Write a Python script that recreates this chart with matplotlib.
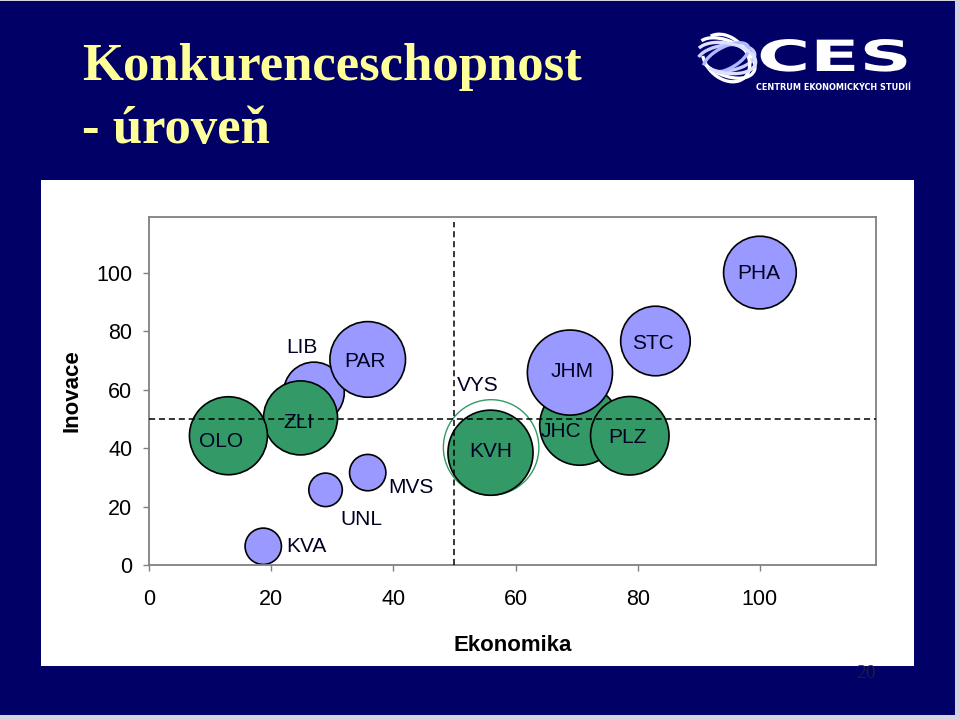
import numpy as np
import matplotlib
matplotlib.use("Agg")
import matplotlib.pyplot as plt
from matplotlib.patches import Rectangle, Arc
from matplotlib import patheffects
from matplotlib.transforms import Affine2D

# -----------------------------
# Data
# -----------------------------
# drawing order matters: later bubbles sit on top of earlier ones
kraje = ["VYS", "KVH", "JHC", "PLZ", "JHM", "STC", "PHA",
         "LIB", "ZLI", "PAR", "OLO", "MVS", "UNL", "KVA"]
ekonomika = [56.0, 55.9, 70.5, 78.7, 68.9, 82.9, 100.0,
             27.0, 24.8, 35.8, 13.0, 35.8, 28.9, 18.7]
inovace = [40.2, 38.4, 47.8, 44.2, 65.8, 76.6, 100.0,
           59.0, 50.3, 70.3, 44.2, 31.6, 25.7, 6.4]
velikost = [228, 181, 160, 154, 181, 121, 132,
            92, 137, 143, 152, 33, 28, 33]
skupina = ["obrys", "zelena", "zelena", "zelena", "modra", "modra", "modra",
           "modra", "zelena", "modra", "zelena", "modra", "modra", "modra"]

x_ticks = [0, 20, 40, 60, 80, 100]
y_ticks = [0, 20, 40, 60, 80, 100]
prah_x = 50
prah_y = 50

# label offsets from bubble centre, in points (style, not data)
label_dx = [-9.4, 0.0, -13.7, -1.4, 1.4, -1.8, -0.7,
            -8.6, -1.2, -2.0, -5.5, 31.0, 25.7, 31.2]
label_dy = [46.0, 2.4, -2.9, 0.0, 2.2, -0.7, 0.7,
            33.5, -2.0, 0.0, -2.4, -9.4, -19.7, 1.2]

NAVY = "#000066"
GREEN = "#339966"
LAVENDER = "#9999FF"
GREY = "#808080"
SANS = ["Liberation Sans", "DejaVu Sans"]
SERIF = ["Liberation Serif", "DejaVu Serif"]


class Stretch(patheffects.AbstractPathEffect):
    """Widen text horizontally around its own centre (for the logo lettering)."""

    def __init__(self, sx):
        super().__init__()
        self.sx = sx

    def draw_path(self, renderer, gc, tpath, affine, rgbFace=None):
        ext = affine.transform_path(tpath).get_extents()
        cx = (ext.x0 + ext.x1) / 2
        aff = affine + Affine2D().translate(-cx, 0).scale(self.sx, 1).translate(cx, 0)
        renderer.draw_path(gc, tpath, aff, rgbFace)


fig = plt.figure(figsize=(9.6, 7.2), dpi=100)
fig.patch.set_facecolor("#d4d4e0")

# -----------------------------
# Slide background (pixel coords)
# -----------------------------
bg = fig.add_axes([0, 0, 1, 1], zorder=0)
bg.set_xlim(0, 960)
bg.set_ylim(720, 0)
bg.axis("off")
bg.add_patch(Rectangle((0, 1), 955, 714, facecolor=NAVY, edgecolor="none"))
bg.add_patch(Rectangle((41, 180), 873, 486, facecolor="white", edgecolor="none"))

bg.text(82, 80, "Konkurenceschopnost", family=SERIF,
        weight="bold", fontsize=38, color="#FFFF99", ha="left", va="baseline")
bg.text(82, 143, "- úroveň", family=SERIF,
        weight="bold", fontsize=38, color="#FFFF99", ha="left", va="baseline")

# CES logo: swirl + lettering
for w, h, ang, col in [(62, 34, 25, "white"), (58, 26, -8, "#c8ccff"),
                       (54, 40, 45, "white"), (50, 22, -28, "#b0b8ff"),
                       (60, 30, 10, "#dde0ff")]:
    bg.add_patch(Arc((726, 58), w, h, angle=ang, theta1=190, theta2=500,
                     color=col, lw=2.4))
bg.text(834, 59, "CES", family=["DejaVu Sans"], weight="bold", fontsize=31,
        color="white", ha="center", va="center",
        path_effects=[Stretch(1.68)])
bg.text(833, 87, "CENTRUM EKONOMICKÝCH STUDIÍ", family=["DejaVu Sans"],
        weight="bold", stretch="condensed", fontsize=6.5, color="white",
        ha="center", va="center")

bg.text(866, 674, "20", family=SERIF,
        fontsize=14, color="#1c1c44", ha="center", va="center")

# -----------------------------
# Bubble chart
# -----------------------------
ax = fig.add_axes([149 / 960, 1 - 565 / 720, 727 / 960, 348 / 720], zorder=1)
ax.set_facecolor("white")
ax.set_xlim(0, 119)
ax.set_ylim(0, 119)

face = {"zelena": GREEN, "modra": LAVENDER, "obrys": "none"}
edge = {"zelena": "black", "modra": "black", "obrys": GREEN}
lw = {"zelena": 1.2, "modra": 1.2, "obrys": 1.0}

sizes = 20.736 * np.array(velikost, dtype=float)
ax.scatter(ekonomika, inovace, s=sizes,
           c=[face[g] for g in skupina],
           edgecolors=[edge[g] for g in skupina],
           linewidths=[lw[g] for g in skupina], zorder=2)

ax.axvline(prah_x, ymax=0.985, color="black", lw=1.1, linestyle=(0, (4, 2.5)), zorder=3)
ax.axhline(prah_y, color="black", lw=1.1, linestyle=(0, (4, 2.5)), zorder=3)

for name, x, y, dx, dy in zip(kraje, ekonomika, inovace, label_dx, label_dy):
    ax.annotate(name, (x, y), xytext=(dx, dy), textcoords="offset points",
                ha="center", va="center_baseline", fontsize=15, family=SANS,
                color="#000022", zorder=4)

ax.set_xticks(x_ticks)
ax.set_yticks(y_ticks)
ax.tick_params(axis="both", length=4, width=1, color=GREY, labelsize=15.5)
ax.tick_params(axis="x", pad=13)
ax.tick_params(axis="y", pad=8)
for lab in ax.get_xticklabels() + ax.get_yticklabels():
    lab.set_family(SANS)
for sp in ax.spines.values():
    sp.set_color(GREY)
    sp.set_linewidth(1.3)

ax.set_xlabel("Ekonomika", family=SANS, weight="bold", fontsize=16)
ax.set_ylabel("Inovace", family=SANS, weight="bold", fontsize=16)
ax.xaxis.set_label_coords(0.5, -0.201)
ax.yaxis.set_label_coords(-0.091, 0.5)

fig.savefig("out.png", dpi=100, facecolor=fig.get_facecolor())
